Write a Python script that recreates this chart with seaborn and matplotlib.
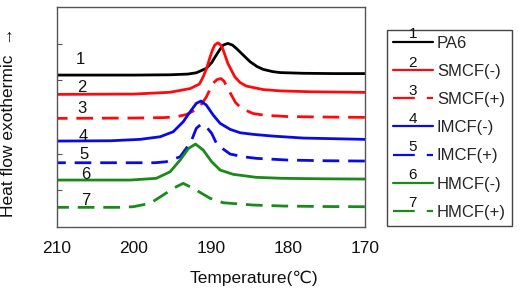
import numpy as np
import pandas as pd
import matplotlib
matplotlib.use("Agg")
import matplotlib.pyplot as plt
import seaborn as sns

# -------------------------
# Data
# (heat flow in arbitrary units, curves stacked with an offset)
# -------------------------
labels = ['PA6', 'SMCF(-)', 'SMCF(+)', 'IMCF(-)', 'IMCF(+)', 'HMCF(-)', 'HMCF(+)']
colors = ['#000000', '#ff0a0a', '#ff0a0a', '#0a0ae6', '#0a0ae6', '#1a8a1a', '#1a8a1a']
dashed = [False, False, True, False, True, False, True]

t1 = [210, 200, 195.3, 193, 191.9, 190.6, 189.9, 189.3, 188.8, 188.4, 187.8, 187.2,
      186.7, 185.8, 184.9, 184.0, 183.2, 182, 181.0, 178, 174, 170]
h1 = [152, 152, 152.3, 153, 154.3, 158.7, 164.5, 172, 178, 182, 183.7, 182,
      178.7, 172, 165.3, 160.5, 157.7, 155.5, 154.5, 153.8, 153.5, 153.5]

t2 = [210, 200, 195.3, 192.7, 191.5, 191.0, 190.5, 190.1, 189.8, 189.5, 189.1, 188.7,
      188.4, 187.8, 186.9, 186.2, 185.4, 183.2, 181, 177, 170]
h2 = [132.7, 133, 134.8, 138.5, 143, 150.3, 160, 170.3, 177, 182, 184.3, 182,
      177, 163.7, 150.3, 144.5, 141, 137.5, 136.2, 135.3, 134.7]

t3 = [210, 200, 196, 194.5, 193.2, 192.3, 191.4, 190.6, 190.1, 189.7, 189.2, 188.7,
      188.3, 187.9, 187.3, 186.8, 186.2, 185.4, 184.5, 183, 180, 175, 170]
h3 = [108.7, 109, 109.5, 110.3, 112.5, 116, 121, 130, 138, 144, 147.5, 148.5,
      146, 140, 131.5, 124.5, 120, 116.5, 113.5, 111.8, 110.5, 110, 109.7]

t4 = [210, 203, 199.2, 196.6, 194.9, 193.6, 192.7, 191.9, 191.3, 190.6, 189.7, 188.8,
      187.5, 186.2, 184.5, 182, 178, 170]
h4 = [86, 86.3, 87.7, 90.3, 95.3, 105.3, 115.3, 123.7, 126, 122, 112, 103.7,
      97.7, 94.3, 92.7, 91, 89, 87.7]

t5 = [210, 200.1, 197.3, 195.8, 194.0, 193.2, 192.5, 191.9, 191.3, 190.6, 189.9, 189.3,
      188.4, 187.5, 185.8, 184.1, 180, 175, 170]
h5 = [64.3, 64.3, 64.3, 65.3, 70.3, 78.7, 87, 98.7, 102.7, 100.3, 93.7, 84,
      78, 73, 70.3, 68.7, 67, 66.3, 66]

t6 = [210, 200.5, 197.1, 195.3, 194.0, 192.9, 192.0, 191.0, 189.9, 188.8, 187.1, 184.1,
      180.6, 175, 170]
h6 = [47, 47, 48.7, 55.3, 67, 78.7, 83, 77, 65.3, 57, 52.7, 49.7,
      48.7, 48.2, 48]

t7 = [210, 202, 200.1, 197.9, 196.2, 194.9, 193.6, 192.3, 190.1, 188.4, 186.2, 184.5,
      180.6, 175, 170]
h7 = [19.7, 19.7, 20.3, 23.7, 32, 38.7, 43.7, 38.7, 28.7, 24.3, 23, 22,
      21, 20.5, 20.3]

temps = [t1, t2, t3, t4, t5, t6, t7]
heats = [h1, h2, h3, h4, h5, h6, h7]

# curve numbers written next to each trace
num_t = [207.0, 206.8, 206.8, 206.6, 206.5, 206.2, 206.2]
num_h = [168, 140, 119, 91, 73, 53, 27]

x_ticks = [210, 200, 190, 180, 170]
y_ticks = [183, 147, 73, 37]

df = pd.concat([pd.DataFrame({'temp': t, 'heat': h, 'sample': lab})
                for t, h, lab in zip(temps, heats, labels)], ignore_index=True)

# -------------------------
# Plot
# -------------------------
sns.set_theme(style='white')
plt.rcParams['font.family'] = ['Liberation Sans', 'DejaVu Sans']

fig = plt.figure(figsize=(5.2, 2.96), dpi=100)
ax = fig.add_axes([0.1096, 0.233, 0.592, 0.743])

dash = (6, 3.2)
sns.lineplot(data=df, x='temp', y='heat', hue='sample', style='sample',
             hue_order=labels, style_order=labels,
             palette=dict(zip(labels, colors)),
             dashes={lab: (dash if d else '') for lab, d in zip(labels, dashed)},
             estimator=None, legend=False, lw=2.0, ax=ax)

for i, (tx, hy) in enumerate(zip(num_t, num_h)):
    ax.text(tx, hy, str(i + 1), ha='center', va='center', fontsize=12, color='#111111')

ax.set_xlim(210, 170)
ax.set_ylim(0, 220)
ax.set_xticks(x_ticks)
ax.set_xticklabels([str(v) for v in x_ticks])
ax.set_yticks(y_ticks)
ax.set_yticklabels([])
ax.tick_params(axis='both', direction='in', color='#555555', width=0.8)
ax.tick_params(axis='x', length=4.5, labelsize=12.5, pad=10, labelcolor='#111111')
ax.tick_params(axis='y', length=3.6, left=True)
for sp in ax.spines.values():
    sp.set_color('#555555')
    sp.set_linewidth(1.0)

ax.set_xlabel('Temperature(\u2103)', fontsize=12.5, color='#111111')
ax.xaxis.set_label_coords(0.64, -0.2)
ax.set_ylabel('')
fig.text(0.017, 0.588, 'Heat flow exothermic  \u2192', rotation=90,
         ha='center', va='center', fontsize=12.5, color='#111111')

# legend with the curve number above each handle
leg = fig.legend(handles=ax.get_lines()[:7], labels=labels, loc='upper left',
                 bbox_to_anchor=(0.744, 0.899), borderaxespad=0,
                 frameon=True, fancybox=False, edgecolor='#444444',
                 fontsize=12, handlelength=2.4, handletextpad=0.25,
                 labelspacing=0.79, borderpad=0.35)
leg.get_frame().set_linewidth(1.0)
leg.get_frame().set_alpha(1.0)
for ln, d in zip(leg.get_lines(), dashed):
    ln.set_linewidth(1.6)
    if d:
        ln.set_linestyle((0, (9.8, 5.4)))

fig.canvas.draw()
renderer = fig.canvas.get_renderer()
inv = fig.transFigure.inverted()
for i, ln in enumerate(leg.get_lines()):
    bb = ln.get_window_extent(renderer)
    xc = (bb.x0 + bb.x1) / 2
    yc = (bb.y0 + bb.y1) / 2
    fx, fy = inv.transform((xc, yc + 0.5))
    fig.text(fx, fy, str(i + 1), ha='center', va='bottom', fontsize=11,
             color='#111111', zorder=10)

fig.savefig('out.png', dpi=100)
